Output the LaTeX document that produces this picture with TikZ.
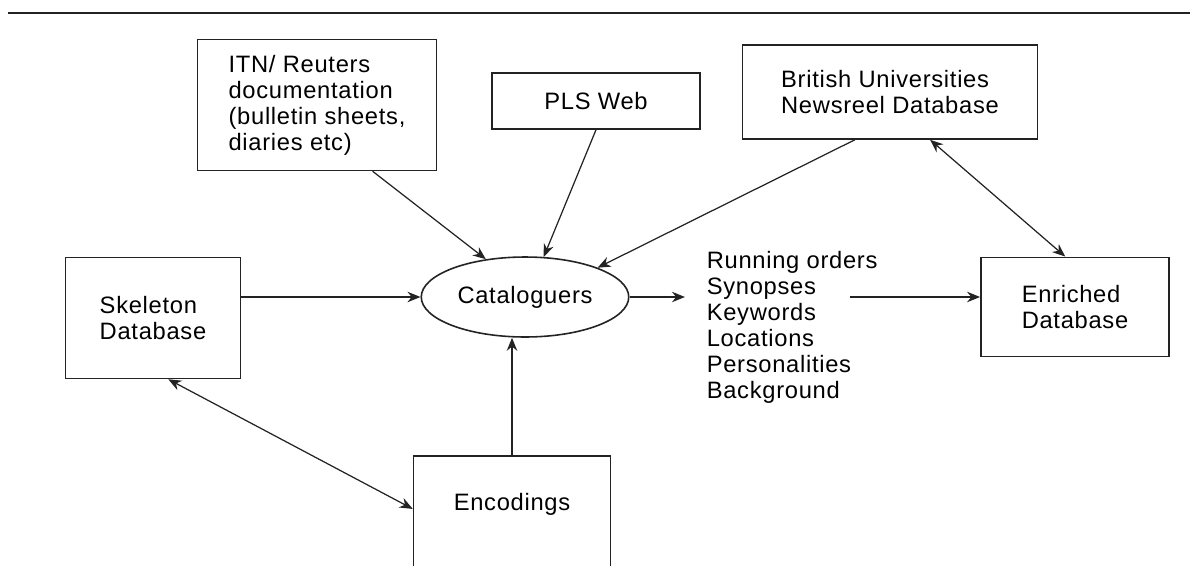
\documentclass[tikz,border=0pt]{standalone}
\usepackage{fontspec}
\setmainfont{Liberation Sans}[LetterSpace=3]
\usepackage{tikz}
\usetikzlibrary{arrows.meta,shapes,positioning,calc}
\definecolor{dfline}{RGB}{35,35,35}
\tikzstyle{link} = [line width=0.7pt,-{Stealth[length=2.6mm,width=2.1mm]},color=dfline]
\tikzstyle{dlink} = [line width=0.7pt,{Stealth[length=2.6mm,width=2.1mm]}-{Stealth[length=2.6mm,width=2.1mm]},color=dfline]
\tikzstyle{srcbox} = [rectangle, draw=dfline, line width=0.9pt, align=left, inner sep=0pt, font=\fontsize{13.5}{14.8}\selectfont]

\begin{document}
\begin{tikzpicture}[x=0.02cm,y=-0.02cm]
\fill[white] (0,0) rectangle (1196,565);
\clip (0,0) rectangle (1196,565);
\draw[line width=0.9pt,color=dfline] (8,13) -- (1190,13);
% Sources
\node[srcbox, minimum width=4.78cm, minimum height=2.62cm] (itn) at (317,105) {ITN/ Reuters\\documentation\\(bulletin sheets,\\diaries etc)};
\node[srcbox, minimum width=4.16cm, minimum height=1.12cm] (pls) at (596,101) {PLS Web};
\node[srcbox, minimum width=5.9cm, minimum height=1.88cm] (brit) at (890,92) {British Universities\\Newsreel Database};
\node[srcbox, minimum width=3.5cm, minimum height=2.42cm] (skel) at (153,318) {Skeleton\\Database};
\node[srcbox, minimum width=3.76cm, minimum height=1.98cm, line width=1.1pt] (enr) at (1075,307) {Enriched\\Database};
% Centre
\node[ellipse, draw=dfline, line width=0.9pt, minimum width=3.92cm, minimum height=1.6cm, font=\fontsize{13.5}{14.8}\selectfont] (cat) at (525,297) {Cataloguers};
\node[srcbox, draw=none, anchor=west] (out) at (706,327) {Running orders\\Synopses\\Keywords\\Locations\\Personalities\\Background};
\node[srcbox, minimum width=3.94cm, inner ysep=0pt, text height=1.08cm, text depth=1.88cm] (enc) at (512,530) {Encodings};
% Links
\draw[link] (itn.-50) -- (cat.136);
\draw[link] (pls.south) -- (cat.65);
\draw[link] ([xshift=-20]brit.south) -- (cat.22);
\draw[link] (skel.east |- cat) -- (cat.west);
\draw[link] (enc.north) -- (enc.north |- cat.south);
\draw[link] (cat.east) -- ([xshift=-12]cat.east -| out.west);
\draw[link] ($(out.east |- cat)+(-28,0)$) -- (enr.west |- cat);
\draw[dlink] (brit.-50) -- (enr.101);
\draw[dlink] (skel.-76) -- (enc.168);
\end{tikzpicture}
\end{document}
